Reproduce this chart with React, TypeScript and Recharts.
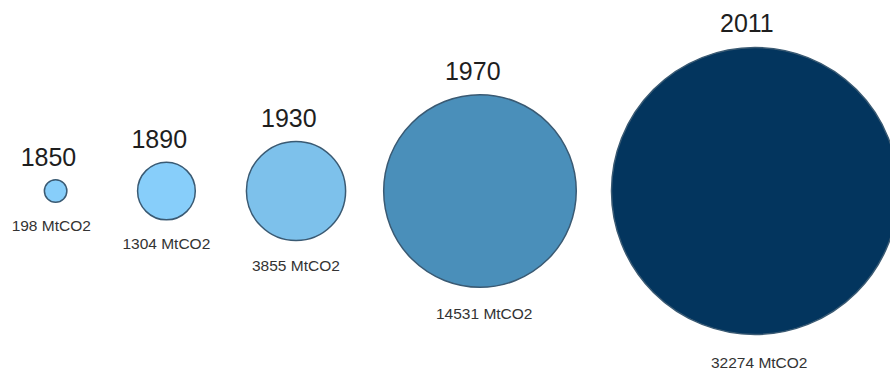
import React from 'react';
import { ScatterChart, Scatter, XAxis, YAxis, ZAxis } from 'recharts';

const years = ['1850', '1890', '1930', '1970', '2011'];
const emissions = [198, 1304, 3855, 14531, 32274];
const colors = ['#87cefa', '#87cefa', '#7dc1eb', '#4a8fba', '#03355e'];

// horizontal slot of each bubble, in percent of the chart width
const slots = [6.25, 18.7, 33.26, 53.93, 84.83];

const data = years.map((year, i) => ({
  year,
  value: emissions[i],
  slot: slots[i],
  row: 0,
  color: colors[i],
}));

const MAX_R = 143.5;
const FONT = "'Liberation Sans', Arial, sans-serif";

const Bubble = (props: any) => {
  const { cx, cy, width, payload } = props;
  const r = width / 2;
  return (
    <g>
      <circle cx={cx} cy={cy} r={r} fill={payload.color} stroke="#3a5a73" strokeWidth={1.5} />
      <text x={cx - 35} y={cy - r * 1.01 - 14} fontSize={25} fontFamily={FONT} fill="#1e1e1e">
        {payload.year}
      </text>
      <text x={cx - 44} y={cy + r * 1.04 + 28} fontSize={15.5} fontFamily={FONT} fill="#333333">
        {`${payload.value} MtCO2`}
      </text>
    </g>
  );
};

export default function App() {
  return (
    <div style={{ position: 'absolute', left: 0, top: 0, width: 890, height: 370, background: '#fff' }}>
      <ScatterChart width={890} height={370} margin={{ top: 12, right: 0, bottom: 0, left: 0 }}>
        <XAxis type="number" dataKey="slot" domain={[0, 100]} hide />
        <YAxis type="number" dataKey="row" domain={[-1, 1]} hide />
        <ZAxis
          type="number"
          dataKey="value"
          domain={[0, 32274]}
          range={[0, Math.PI * MAX_R * MAX_R]}
        />
        <Scatter data={data} shape={<Bubble />} isAnimationActive={false} />
      </ScatterChart>
    </div>
  );
}
